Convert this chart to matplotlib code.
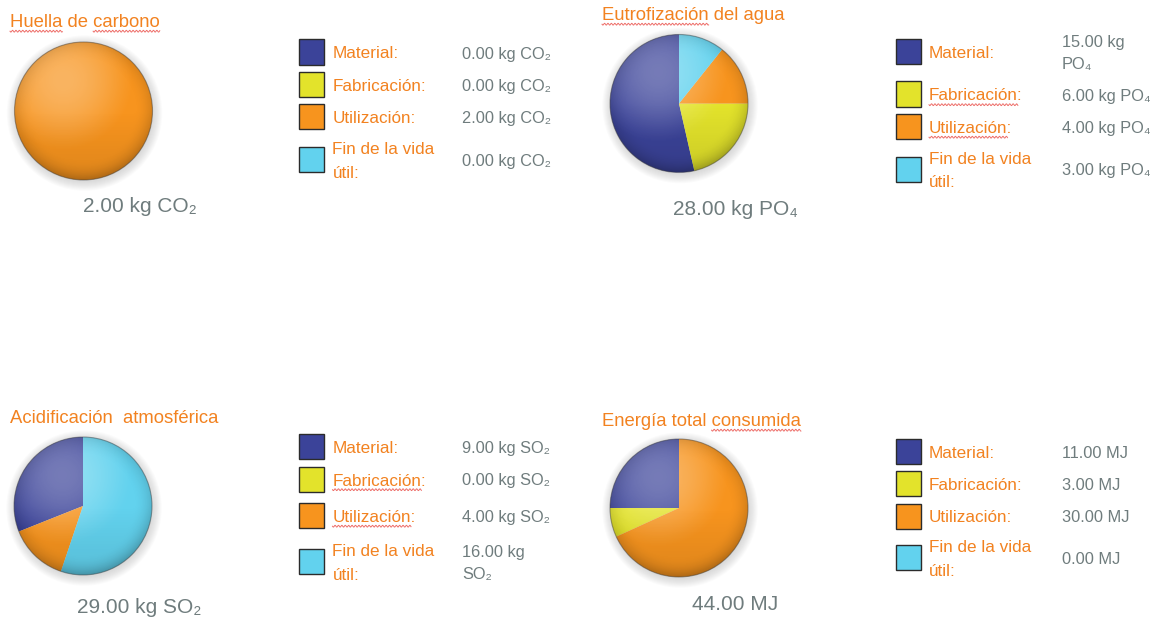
import numpy as np
import matplotlib
matplotlib.use('Agg')
import matplotlib.pyplot as plt
from matplotlib.patches import Rectangle, Circle
from matplotlib.lines import Line2D

plt.rcParams['font.family'] = ['Liberation Sans', 'DejaVu Sans']

W, H = 1163, 618

# ---------------- data ----------------
categories = ['Material:', 'Fabricación:', 'Utilización:', 'Fin de la vida\nútil:']
titles = ['Huella de carbono', 'Eutrofización del agua',
          'Acidificación  atmosférica', 'Energía total consumida']
units = ['CO₂', 'PO₄', 'SO₂', 'MJ']
huella = [0.0, 0.0, 2.0, 0.0]
eutro = [15.0, 6.0, 4.0, 3.0]
acid = [9.0, 0.0, 4.0, 16.0]
energia = [11.0, 3.0, 30.0, 0.0]
series = [huella, eutro, acid, energia]

colors = ['#3B4399', '#E3E32B', '#F7941E', '#62D2EE']
ORANGE = '#F28220'
GRAY = '#6F7C7D'
WAVE = '#E8403A'

# ---------------- layout (pixels) ----------------
layout = [
    dict(pie=(83.5, 111), title=(10, 27), total=(140, 212),
         sq=299, lab=332.5, val=462.5, rows=[52, 84.5, 116.5, 159.5],
         ut=['Huella', 'carbono'], ul=[]),
    dict(pie=(679, 103.5), title=(602, 20), total=(735.5, 215),
         sq=895.5, lab=929, val=1061.5, rows=[51.5, 94, 126.5, 169],
         ut=['Eutrofización'], ul=[1, 2]),
    dict(pie=(83, 506), title=(10, 423), total=(139, 613),
         sq=299, lab=332.5, val=462.5, rows=[446.5, 479, 515.5, 561.5],
         ut=[], ul=[1, 2]),
    dict(pie=(679, 508), title=(602, 426), total=(735, 610),
         sq=895.5, lab=929, val=1061.5, rows=[451.5, 483, 516, 557.5],
         ut=['consumida'], ul=[]),
]
R = 69
SQ = 25
LINE = 23

fig = plt.figure(figsize=(W / 100, H / 100), dpi=100)
fig.patch.set_facecolor('white')
renderer = fig.canvas.get_renderer()


def fx(x):
    return x / W


def fy(y):
    return 1 - y / H


def ftext(x, y, s, **kw):
    return fig.text(fx(x), fy(y), s, transform=fig.transFigure, **kw)


def text_width(s, size):
    t = fig.text(0, 0, s, fontsize=size)
    w = t.get_window_extent(renderer).width
    t.remove()
    return w


def wavy(x0, x1, y):
    xs = np.linspace(x0, x1, max(int((x1 - x0) * 3), 10))
    ys = y + 0.9 * np.sin((xs - x0) / 3.4 * 2 * np.pi)
    fig.add_artist(Line2D(fx(xs), fy(ys), transform=fig.transFigure,
                          color=WAVE, lw=0.7, alpha=0.75))


def underline_words(x, base, s, words, size):
    for w in words:
        i = s.find(w)
        if i < 0:
            continue
        end = text_width(s[:i] + w, size)
        start = end - text_width(w, size)
        wavy(x + start, x + end, base + 4.2)


# shading grid
n = 300
g = np.linspace(-1, 1, n)
X, Y = np.meshgrid(g, g)
RR = np.sqrt(X ** 2 + Y ** 2)
hl = np.clip(1 - ((X + 0.3) ** 2 + (Y - 0.45) ** 2) / 1.1, 0, 1)
white = np.zeros((n, n, 4))
white[..., :3] = 1
white[..., 3] = 0.30 * hl ** 1.5
rim = np.clip((RR - 0.72) / 0.28, 0, 1) ** 2
dark = np.zeros((n, n, 4))
dark[..., 3] = 0.20 * rim * (0.6 + 0.4 * np.clip(-Y + 0.3 * X, 0, 1)) \
    + 0.10 * np.clip(-Y, 0, 1)

TSIZE = 13.3
LSIZE = 12.3
VSIZE = 11.8
TOTSIZE = 15

for k, (vals, lay) in enumerate(zip(series, layout)):
    cx, cy = lay['pie']
    m = 1.25
    s = 2 * R * m
    ax = fig.add_axes([fx(cx - s / 2), fy(cy + s / 2), s / W, s / H])
    # soft shadow
    for j in range(10):
        ax.add_patch(Circle((0.015, -0.03), 1 + 0.014 * j, color='#8a8a8a',
                            alpha=0.03, lw=0, zorder=0))
    wedges, _ = ax.pie(vals, colors=colors, startangle=90, counterclock=True,
                       radius=1, wedgeprops=dict(linewidth=0))
    for w in wedges:
        w.set_zorder(2)
    im1 = ax.imshow(dark, extent=(-1, 1, -1, 1), origin='lower', zorder=3,
                    interpolation='bilinear')
    im1.set_clip_path(Circle((0, 0), 1, transform=ax.transData))
    im2 = ax.imshow(white, extent=(-1, 1, -1, 1), origin='lower', zorder=4,
                    interpolation='bilinear')
    im2.set_clip_path(Circle((0, 0), 1, transform=ax.transData))
    ax.add_patch(Circle((0, 0), 1, fill=False, ec='#3a3a3a', lw=0.8,
                        alpha=0.45, zorder=5))
    ax.set_xlim(-m, m)
    ax.set_ylim(-m, m)
    ax.set_aspect('equal')
    ax.axis('off')

    # title
    tx, ty = lay['title']
    ftext(tx, ty, titles[k], fontsize=TSIZE, color=ORANGE, va='baseline')
    underline_words(tx, ty, titles[k], lay['ut'], TSIZE)

    # total
    unit = units[k]
    total = sum(vals)
    if unit == 'MJ':
        tot = f"{total:.2f} MJ"
    else:
        tot = f"{total:.2f} kg {unit}"
    ftext(lay['total'][0], lay['total'][1], tot, fontsize=TOTSIZE, color=GRAY,
          ha='center', va='baseline')

    # legend
    for i, (cat, v) in enumerate(zip(categories, vals)):
        yc = lay['rows'][i]
        fig.add_artist(Rectangle((fx(lay['sq']), fy(yc + SQ / 2)), SQ / W, SQ / H,
                                 transform=fig.transFigure, fc=colors[i],
                                 ec='#2b2b2b', lw=1.0))
        lines = cat.split('\n')
        nl = len(lines)
        for li, line in enumerate(lines):
            b = yc + 6.5 + (li - (nl - 1) / 2) * LINE
            ftext(lay['lab'], b, line, fontsize=LSIZE, color=ORANGE, va='baseline')
            if i in lay['ul'] and li == 0:
                underline_words(lay['lab'], b, line, [line.rstrip(':')], LSIZE)
        if unit == 'MJ':
            vlines = [f"{v:.2f} MJ"]
        elif v >= 10:
            vlines = [f"{v:.2f} kg", unit]
        else:
            vlines = [f"{v:.2f} kg {unit}"]
        nv = len(vlines)
        for li, line in enumerate(vlines):
            b = yc + 6.5 + (li - (nv - 1) / 2) * 22
            ftext(lay['val'], b, line, fontsize=VSIZE, color=GRAY, va='baseline')

fig.savefig('out.png', dpi=100, facecolor='white')
